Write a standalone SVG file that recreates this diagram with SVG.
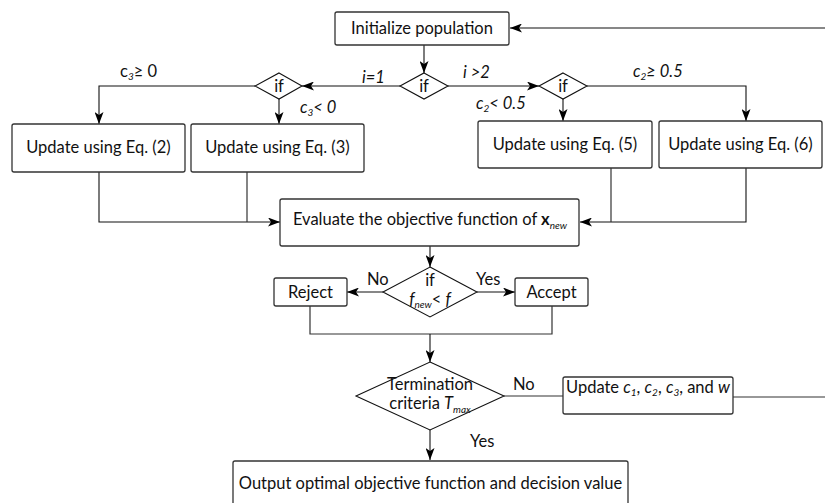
<svg xmlns="http://www.w3.org/2000/svg" width="825" height="503" viewBox="0 0 825 503">
<defs>
<marker id="arr" markerUnits="userSpaceOnUse" markerWidth="12" markerHeight="9" refX="12" refY="4.5" orient="auto">
<path d="M0,0 L12,4.5 L0,9 L3,4.5 z" fill="#000"/>
</marker>
<style>
.box{fill:#fff;stroke:#333;stroke-width:1.3}
.dia{fill:#fff;stroke:#111;stroke-width:1.1}
.ln{fill:none;stroke:#333;stroke-width:1.2}
.al{fill:none;stroke:#111;stroke-width:1.1;marker-end:url(#arr)}
text{font-family:Lato,"Noto Sans","Liberation Sans",sans-serif;font-size:16.5px;fill:#111}
.lb{font-size:16.5px}
.c{text-anchor:middle}
.i{font-style:italic}
.sub{font-size:10px;font-style:italic}
</style>
</defs>
<rect width="825" height="503" fill="#fff"/>
<g id="connectors">
<path class="al" d="M825,28 L510,28"/>
<path class="al" d="M424,45 L424,73"/>
<path class="al" d="M400,86 L302,86"/>
<path class="al" d="M255,86 L99,86 L99,124"/>
<path class="al" d="M279,99 L279,124"/>
<path class="al" d="M448,86 L539,86"/>
<path class="al" d="M587,86 L746,86 L746,121"/>
<path class="al" d="M563,99 L563,121"/>
<path class="al" d="M99,172 L99,222 L280,222"/>
<path class="ln" d="M247,172 L247,222"/>
<path class="al" d="M746,168 L746,222 L580,222"/>
<path class="ln" d="M611,168 L611,222"/>
<path class="al" d="M430,246 L430,267"/>
<path class="al" d="M383,292 L347,292"/>
<path class="al" d="M477,292 L515,292"/>
<path class="ln" d="M310,306 L310,334 L552,334 L552,306"/>
<path class="al" d="M430,334 L430,362"/>
<path class="ln" d="M504,396 L563,396"/>
<path class="ln" d="M733,397 L825,397"/>
<path class="al" d="M430,430 L430,460"/>
<text class="lb i" x="362" y="83">i=1</text>
<text class="lb i" x="463" y="78">i &gt;2</text>
<text class="lb" x="120" y="77">c<tspan class="sub" dy="3">3</tspan><tspan dy="-3">≥ 0</tspan></text>
<text class="lb i" x="300" y="113">c<tspan class="sub" dy="3">3</tspan><tspan dy="-3">&lt; 0</tspan></text>
<text class="lb i" x="633" y="77">c<tspan class="sub" dy="3">2</tspan><tspan dy="-3">≥ 0.5</tspan></text>
<text class="lb i" x="476" y="109">c<tspan class="sub" dy="3">2</tspan><tspan dy="-3">&lt; 0.5</tspan></text>
<text x="367" y="285">No</text>
<text x="476" y="285">Yes</text>
<text x="513" y="390">No</text>
<text x="470" y="447">Yes</text>
</g>
<g id="init"><rect class="box" x="335" y="12" width="174" height="33" rx="2"/><text class="c" x="422" y="34">Initialize population</text></g>
<g id="if1"><polygon class="dia" points="424,73 448,86 424,99 400,86"/><text class="c" x="424" y="92">if</text></g>
<g id="if2"><polygon class="dia" points="279,73 302,86 279,99 255,86"/><text class="c" x="279" y="92">if</text></g>
<g id="if3"><polygon class="dia" points="563,73 587,86 563,99 539,86"/><text class="c" x="563" y="92">if</text></g>
<g id="eq2"><rect class="box" x="12" y="124" width="173" height="48" rx="2"/><text class="c" x="98.5" y="153">Update using Eq. (2)</text></g>
<g id="eq3"><rect class="box" x="191" y="124" width="173" height="48" rx="2"/><text class="c" x="277.5" y="153">Update using Eq. (3)</text></g>
<g id="eq5"><rect class="box" x="478" y="121" width="174" height="47" rx="2"/><text class="c" x="565" y="150">Update using Eq. (5)</text></g>
<g id="eq6"><rect class="box" x="659" y="121" width="163" height="47" rx="2"/><text class="c" x="740.5" y="150">Update using Eq. (6)</text></g>
<g id="evaluate"><rect class="box" x="280" y="199" width="299" height="47" rx="2"/><text class="c" x="430" y="225">Evaluate the objective function of <tspan font-weight="bold">x</tspan><tspan class="sub" dy="4">new</tspan></text></g>
<g id="if4"><polygon class="dia" points="430,267 477,292 430,317 383,292"/><text class="c" x="430" y="286">if</text><text class="c" x="430" y="305"><tspan class="i">f</tspan><tspan class="sub" dy="3">new</tspan><tspan dy="-3">&lt; </tspan><tspan class="i">f</tspan></text></g>
<g id="reject"><rect class="box" x="274" y="278" width="73" height="28" rx="2"/><text class="c" x="310.5" y="298">Reject</text></g>
<g id="accept"><rect class="box" x="515" y="278" width="73" height="28" rx="2"/><text class="c" x="551.5" y="298">Accept</text></g>
<g id="termination"><polygon class="dia" points="430,362 504,396 430,430 356,396"/><text class="c" x="430" y="390">Termination</text><text class="c" x="430" y="409">criteria <tspan class="i">T</tspan><tspan class="sub" dy="4">max</tspan></text></g>
<g id="update"><rect class="box" x="563" y="377" width="170" height="37" rx="2"/><text x="566" y="393">Update <tspan class="i">c</tspan><tspan class="sub" dy="3">1</tspan><tspan dy="-3">, </tspan><tspan class="i">c</tspan><tspan class="sub" dy="3">2</tspan><tspan dy="-3">, </tspan><tspan class="i">c</tspan><tspan class="sub" dy="3">3</tspan><tspan dy="-3">, and </tspan><tspan class="i">w</tspan></text></g>
<g id="output"><rect class="box" x="233" y="461" width="395" height="50" rx="2"/><text class="c" x="430.5" y="489">Output optimal objective function and decision value</text></g>
</svg>
